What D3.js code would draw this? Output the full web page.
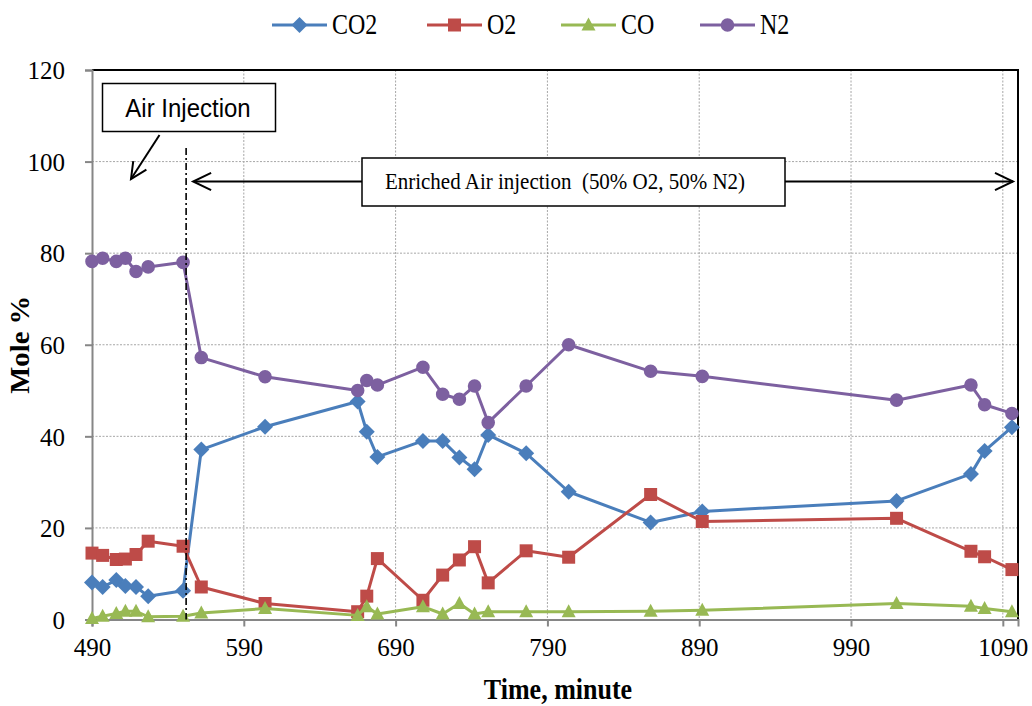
<!DOCTYPE html>
<html>
<head>
<meta charset="utf-8">
<script src="https://cdn.jsdelivr.net/npm/d3@7"></script>
<style>
  html, body { margin: 0; padding: 0; background: #fff; }
  svg { display: block; }
  text { font-family: "Liberation Serif", "Times New Roman", serif; fill: #000; }
</style>
</head>
<body>
<svg id="chart" width="1032" height="706"></svg>
<script>
// Sample times (minutes) shared by all gas series
const times = [490, 497, 506, 512, 519, 527, 550, 562, 604, 665, 671, 678, 708, 721, 732, 742, 751, 776, 804, 858, 892, 1020, 1069, 1078, 1096];

// Gas composition, mole %
const co2 = [8.1, 7.1, 8.6, 7.3, 7.1, 5.1, 6.3, 37.1, 42.1, 47.6, 41.0, 35.5, 39.0, 39.0, 35.4, 32.8, 40.3, 36.3, 27.9, 21.2, 23.6, 25.9, 31.8, 36.8, 42.0];
const o2  = [14.5, 14.0, 13.1, 13.2, 14.2, 17.1, 16.0, 7.1, 3.5, 1.7, 5.1, 13.3, 4.2, 9.7, 13.0, 15.9, 8.0, 15.0, 13.6, 27.3, 21.4, 22.1, 14.9, 13.7, 10.9];
const co  = [0.2, 0.7, 1.3, 1.8, 1.8, 0.6, 0.7, 1.4, 2.4, 0.9, 2.8, 1.2, 2.8, 1.2, 3.5, 1.2, 1.7, 1.7, 1.7, 1.8, 2.0, 3.5, 2.9, 2.4, 1.7];
const n2  = [78.2, 78.9, 78.2, 78.9, 76.0, 77.0, 78.0, 57.2, 53.0, 50.0, 52.2, 51.2, 55.1, 49.2, 48.1, 51.0, 43.0, 51.0, 60.0, 54.2, 53.1, 47.9, 51.2, 46.9, 45.0];

const seriesNames = ["CO2", "O2", "CO", "N2"];
const xTicks = [490, 590, 690, 790, 890, 990, 1090];
const yTicks = [0, 20, 40, 60, 80, 100, 120];
const injectionStart = 552;   // switch to enriched air
const enrichedLabel = "Enriched Air injection  (50% O2, 50% N2)";
const airLabel = "Air Injection";

const colors = { CO2: "#4A7EBB", O2: "#BE4B48", CO: "#98B954", N2: "#7D60A0" };
const shapes = { CO2: "diamond", O2: "square", CO: "triangle", N2: "circle" };
const valuesByName = { CO2: co2, O2: o2, CO: co, N2: n2 };

const svg = d3.select("#chart");
const plotLeft = 92, plotRight = 1018, plotTop = 70, plotBottom = 619.5;

const x = d3.scaleLinear().domain([490, 1100]).range([plotLeft, plotRight]);
const y = d3.scaleLinear().domain([0, 120]).range([plotBottom, plotTop]);

// marker path generator (Excel-like shapes)
function markerPath(shape) {
  switch (shape) {
    case "diamond": return "M0,-8L8,0L0,8L-8,0Z";
    case "square": return "M-6.5,-6.5H6.5V6.5H-6.5Z";
    case "triangle": return "M0,-7.5L7,5.5H-7Z";
    case "circle": return d3.symbol(d3.symbolCircle, Math.PI * 6.8 * 6.8)();
  }
}

// text stretched vertically around its anchor point
function tallText(sel, px, py, sy) {
  return sel.attr("transform", `translate(${px},${py}) scale(1,${sy})`);
}

// gridlines
const grid = svg.append("g");
grid.selectAll("line.h").data(yTicks.filter(d => d > 0 && d < 120)).join("line")
  .attr("x1", plotLeft).attr("x2", plotRight)
  .attr("y1", d => y(d)).attr("y2", d => y(d))
  .attr("stroke", "#a6a6a6").attr("stroke-width", 1).attr("stroke-dasharray", "2,1.5");
grid.selectAll("line.v").data(xTicks.filter(d => d > 490)).join("line")
  .attr("x1", d => x(d)).attr("x2", d => x(d))
  .attr("y1", plotTop).attr("y2", plotBottom)
  .attr("stroke", "#a6a6a6").attr("stroke-width", 1).attr("stroke-dasharray", "2,1.5");

// plot frame: top and right edges
svg.append("path")
  .attr("d", `M${plotLeft},${plotTop}H${plotRight}V${plotBottom}`)
  .attr("fill", "none").attr("stroke", "#000").attr("stroke-width", 2);

// axes
const yAxis = svg.append("g").attr("transform", `translate(${plotLeft},0)`)
  .call(d3.axisLeft(y).tickValues(yTicks).tickSize(7).tickPadding(20).tickFormat(d3.format("d")));
const xAxis = svg.append("g").attr("transform", `translate(0,${plotBottom})`)
  .call(d3.axisBottom(x).tickValues(xTicks).tickSize(7).tickPadding(12).tickFormat(d3.format("d")));
[yAxis, xAxis].forEach(a => {
  a.select(".domain").attr("stroke", "#868686").attr("stroke-width", 2);
  a.selectAll(".tick line").attr("stroke", "#868686").attr("stroke-width", 2);
  a.selectAll(".tick text").attr("font-family", "Liberation Serif").attr("font-size", 25).attr("fill", "#000");
});
yAxis.selectAll(".tick text").attr("dy", "0.35em");
xAxis.selectAll(".tick text").attr("dy", "0.71em");

// axis titles
svg.append("text")
  .attr("transform", `translate(29,${(plotTop + plotBottom) / 2}) rotate(-90) scale(1.15,1.1)`)
  .attr("text-anchor", "middle").attr("font-weight", "bold").attr("font-size", 25)
  .text("Mole %");
svg.append("text")
  .call(tallText, (plotLeft + plotRight) / 2 + 3, 699, 1.1)
  .attr("text-anchor", "middle").attr("font-weight", "bold").attr("font-size", 26)
  .text("Time, minute");

// series lines and markers
const line = d3.line().x(d => x(d[0])).y(d => y(d[1]));
seriesNames.forEach(name => {
  const pts = times.map((t, i) => [t, valuesByName[name][i]]);
  const g = svg.append("g");
  g.append("path").datum(pts).attr("d", line)
    .attr("fill", "none").attr("stroke", colors[name]).attr("stroke-width", 3).attr("stroke-linejoin", "round");
  g.selectAll("path.m").data(pts).join("path").attr("class", "m")
    .attr("transform", d => `translate(${x(d[0])},${y(d[1])})`)
    .attr("d", markerPath(shapes[name]))
    .attr("fill", colors[name]);
});

// injection switch marker: dash-dot vertical line
svg.append("line")
  .attr("x1", x(injectionStart)).attr("x2", x(injectionStart))
  .attr("y1", 148).attr("y2", plotBottom)
  .attr("stroke", "#000").attr("stroke-width", 1.6).attr("stroke-dasharray", "7,3,2,3");

// open arrowhead helper
function arrowHead(g, tipX, tipY, angle, len) {
  const a1 = angle + Math.PI - 0.45, a2 = angle + Math.PI + 0.45;
  g.append("path")
    .attr("d", `M${tipX + len * Math.cos(a1)},${tipY + len * Math.sin(a1)}L${tipX},${tipY}L${tipX + len * Math.cos(a2)},${tipY + len * Math.sin(a2)}`)
    .attr("fill", "none").attr("stroke", "#000").attr("stroke-width", 2);
}

// enriched-air span arrow
const arrowY = 181.5;
const ann = svg.append("g");
ann.append("line").attr("x1", x(injectionStart) + 8).attr("x2", plotRight - 5)
  .attr("y1", arrowY).attr("y2", arrowY).attr("stroke", "#000").attr("stroke-width", 2);
arrowHead(ann, x(injectionStart) + 7, arrowY, Math.PI, 20);
arrowHead(ann, plotRight - 5, arrowY, 0, 20);

ann.append("rect").attr("x", 362).attr("y", 158).attr("width", 423).attr("height", 48)
  .attr("fill", "#fff").attr("stroke", "#000").attr("stroke-width", 1.5);
ann.append("text")
  .call(tallText, 565, 189, 1.1)
  .attr("text-anchor", "middle").attr("font-size", 21)
  .style("white-space", "pre")
  .text(enrichedLabel);

// air injection callout
ann.append("rect").attr("x", 102.5).attr("y", 83.5).attr("width", 173).attr("height", 48)
  .attr("fill", "#fff").attr("stroke", "#000").attr("stroke-width", 1.5);
ann.append("text")
  .call(tallText, 188, 117, 1.1)
  .attr("text-anchor", "middle").attr("font-size", 24)
  .style("font-family", "'Liberation Sans', Arial, sans-serif")
  .text(airLabel);
ann.append("line").attr("x1", 159.5).attr("y1", 135).attr("x2", 131).attr("y2", 179)
  .attr("stroke", "#000").attr("stroke-width", 2);
arrowHead(ann, 131, 179, Math.atan2(179 - 135, 131 - 159.5), 18);

// legend
const legendX = { CO2: 272, O2: 427, CO: 561, N2: 700 };
const legend = svg.append("g");
seriesNames.forEach(name => {
  const lg = legend.append("g").attr("transform", `translate(${legendX[name]},25)`);
  lg.append("line").attr("x1", 0).attr("x2", 55).attr("stroke", colors[name]).attr("stroke-width", 3);
  lg.append("path").attr("transform", "translate(27.5,0)").attr("d", markerPath(shapes[name])).attr("fill", colors[name]);
  lg.append("text").call(tallText, 60, 9, 1.2).attr("font-size", 24).text(name);
});
</script>
</body>
</html>
